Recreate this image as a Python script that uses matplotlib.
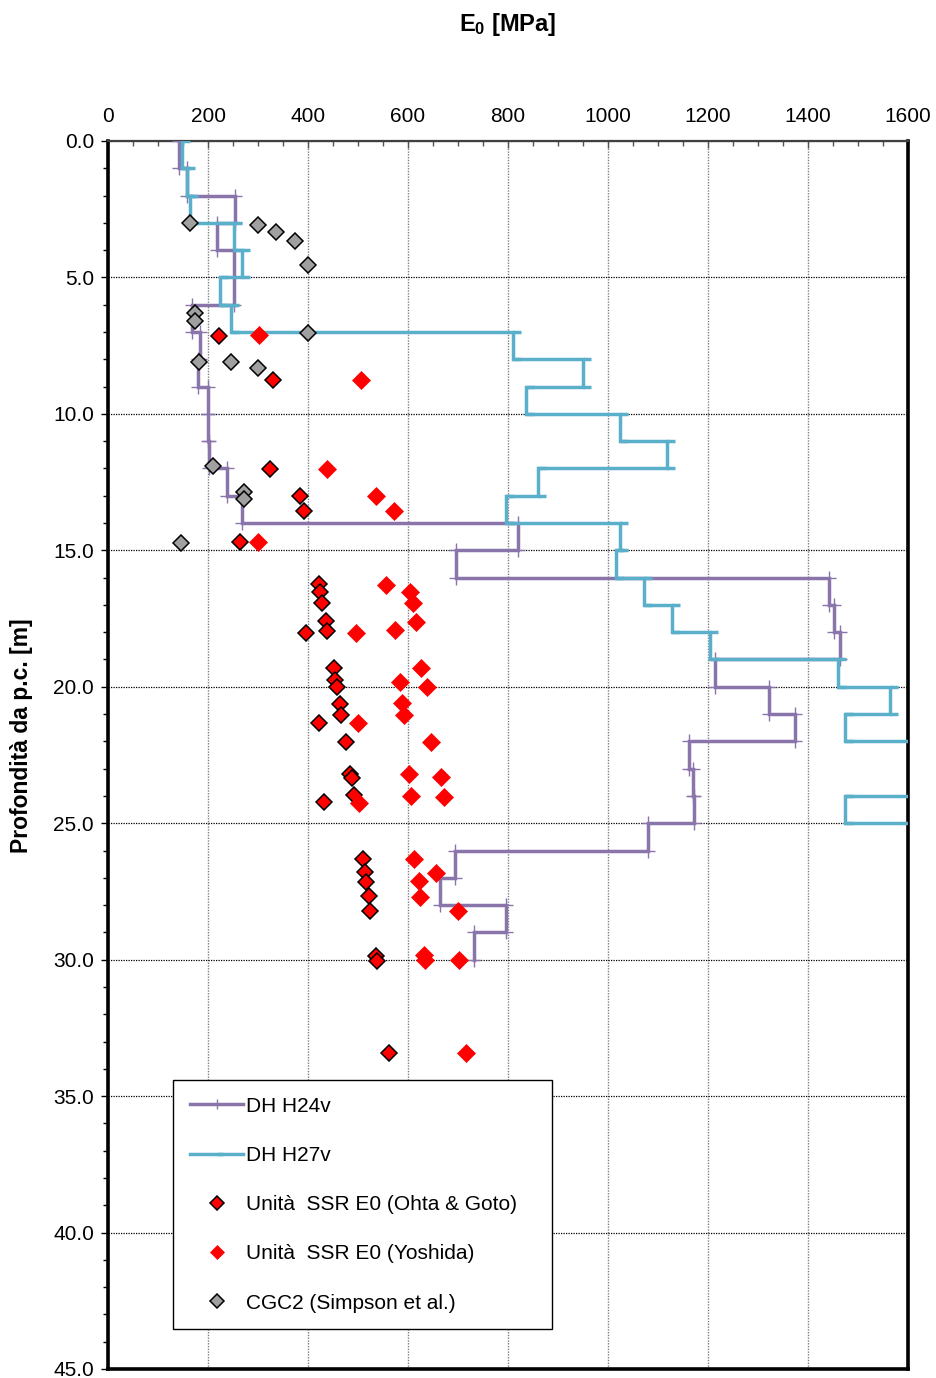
import matplotlib

matplotlib.use("Agg")
import matplotlib.pyplot as plt
from matplotlib.path import Path
from matplotlib.ticker import FormatStrFormatter, MultipleLocator

plt.rcParams["font.family"] = ["Liberation Sans", "DejaVu Sans"]
plt.rcParams["mathtext.fontset"] = "custom"
plt.rcParams["mathtext.rm"] = "Liberation Sans"
plt.rcParams["mathtext.bf"] = "Liberation Sans:bold"
plt.rcParams["mathtext.it"] = "Liberation Sans:italic"

# downhole profiles: 1 m layers, top depth [m] and E0 [MPa]
LAYER_THICKNESS = 1.0
H24V_TOP = list(range(30))
H24V_E = [141, 157, 254, 217, 251, 251, 167, 183, 179, 199,
          199, 202, 237, 267, 820, 696, 1441, 1451, 1463, 1214,
          1321, 1373, 1161, 1170, 1171, 1079, 693, 664, 796, 731]
H27V_TOP = list(range(26))
H27V_E = [147, 158, 164, 252, 267, 224, 246, 810, 949, 835,
          1024, 1117, 859, 795, 1024, 1015, 1071, 1127, 1204, 1459,
          1563, 1474, 1720, 1690, 1474, 1800]

# unit SSR, E0 from Ohta & Goto
OHTA_E = [221, 329, 324, 384, 392, 264,
          421, 423, 427, 435, 437, 396,
          451, 454, 457, 463, 466, 421, 475,
          484, 487, 492, 432,
          509, 514, 515, 521, 524, 536, 537, 561]
OHTA_Z = [7.13, 8.76, 12.02, 13.01, 13.56, 14.71,
          16.23, 16.54, 16.92, 17.59, 17.94, 18.02,
          19.32, 19.75, 20.02, 20.63, 21.03, 21.31, 22.01,
          23.18, 23.35, 23.96, 24.21,
          26.31, 26.80, 27.14, 27.67, 28.22, 29.86, 30.04, 33.43]

# unit SSR, E0 from Yoshida
YOSHIDA_E = [301, 506, 437, 536, 572, 299,
             556, 604, 609, 615, 574, 495,
             625, 584, 637, 588, 591, 499, 646,
             602, 665, 606, 671, 501,
             611, 656, 621, 623, 699, 632, 634, 701, 716]
YOSHIDA_Z = [7.11, 8.76, 12.02, 13.01, 13.56, 14.71,
             16.27, 16.54, 16.92, 17.61, 17.92, 18.02,
             19.32, 19.81, 20.02, 20.61, 21.03, 21.31, 22.01,
             23.21, 23.32, 24.00, 24.03, 24.25,
             26.31, 26.81, 27.10, 27.69, 28.22, 29.83, 30.01, 30.01, 33.41]

# CGC2 (Simpson et al.)
CGC2_E = [163, 300, 336, 373, 400, 173, 173, 400, 181, 245, 300, 209, 272, 272, 145]
CGC2_Z = [3.02, 3.08, 3.32, 3.66, 4.53, 6.29, 6.58, 7.05, 8.11, 8.11, 8.31, 11.91, 12.85, 13.12, 14.74]

PURPLE = "#8a75ab"
AQUA = "#5aafca"
FONT_SIZE = 15


def step_profile(tops, values, thickness):
    e_vals, depths = [], []
    for top, val in zip(tops, values):
        e_vals += [val, val]
        depths += [top, top + thickness]
    return e_vals, depths


fig = plt.figure(figsize=(9.36, 13.78), dpi=100)
ax = fig.add_axes([108 / 936, 9 / 1378, 800 / 936, 1228 / 1378])

# short dash marker pointing right, as the spreadsheet draws it
right_dash = Path([(0.0, 0.0), (1.0, 0.0)])

e24, z24 = step_profile(H24V_TOP, H24V_E, LAYER_THICKNESS)
ax.plot(e24, z24, color=PURPLE, linewidth=2.5, marker="+", markersize=10,
        markeredgewidth=1.0, solid_joinstyle="miter", label="DH H24v", zorder=3)
e27, z27 = step_profile(H27V_TOP, H27V_E, LAYER_THICKNESS)
ax.plot(e27, z27, color=AQUA, linewidth=2.5, marker=right_dash, markersize=11,
        markeredgewidth=2.5, solid_joinstyle="miter", label="DH H27v", zorder=4)

ax.plot(OHTA_E, OHTA_Z, linestyle="none", marker="D", markersize=8.5,
        markerfacecolor="#ff0000", markeredgecolor="black", markeredgewidth=1.1,
        label="Unità  SSR E0 (Ohta & Goto)", zorder=5)
ax.plot(YOSHIDA_E, YOSHIDA_Z, linestyle="none", marker="D", markersize=9,
        markerfacecolor="#ff0000", markeredgecolor="#ff0000", markeredgewidth=0.5,
        label="Unità  SSR E0 (Yoshida)", zorder=6)
ax.plot(CGC2_E, CGC2_Z, linestyle="none", marker="D", markersize=8.5,
        markerfacecolor="#a0a0a0", markeredgecolor="black", markeredgewidth=1.1,
        label="CGC2 (Simpson et al.)", zorder=7)

ax.set_xlim(0, 1600)
ax.set_ylim(45, 0)
ax.xaxis.tick_top()
ax.xaxis.set_major_locator(MultipleLocator(200))
ax.xaxis.set_minor_locator(MultipleLocator(50))
ax.yaxis.set_major_locator(MultipleLocator(5))
ax.yaxis.set_minor_locator(MultipleLocator(1))
ax.yaxis.set_major_formatter(FormatStrFormatter("%.1f"))

ax.tick_params(axis="x", which="both", direction="in", top=True, bottom=False,
               labelsize=FONT_SIZE, pad=11, width=1.0, color="#555555")
ax.tick_params(axis="x", which="major", length=5)
ax.tick_params(axis="x", which="minor", length=3.5)
ax.tick_params(axis="y", which="both", direction="out", labelsize=FONT_SIZE, pad=5, width=1.0)
ax.tick_params(axis="y", which="major", length=5)
ax.tick_params(axis="y", which="minor", length=3.5)

ax.grid(True, which="major", axis="x", color="#808080", linestyle=(0, (1, 1)), linewidth=1.0)
ax.grid(True, which="major", axis="y", color="black", linestyle=(0, (1, 1)), linewidth=0.9)
ax.set_axisbelow(True)

for side in ("left", "right", "bottom"):
    ax.spines[side].set_linewidth(2.6)
    ax.spines[side].set_color("black")
ax.spines["top"].set_linewidth(1.6)
ax.spines["top"].set_color("#404040")

ax.xaxis.set_label_position("top")
ax.set_xlabel(r"$\mathbf{E_0}$ [MPa]", fontsize=17, fontweight="bold")
ax.xaxis.label.set_verticalalignment("center")
ax.xaxis.set_label_coords(0.5, (1369 - 24) / 1228)
ax.set_ylabel("Profondità da p.c. [m]", fontsize=16.5, fontweight="bold")
ax.yaxis.label.set_verticalalignment("center")
ax.yaxis.set_label_coords(-0.1075, 0.516)

leg = ax.legend(loc="upper left", bbox_to_anchor=(0.0816, 0.0344, 0.473, 0.2009),
                mode="expand", borderaxespad=0, fontsize=FONT_SIZE, labelspacing=1.45,
                handlelength=2.55, handletextpad=0.15, borderpad=0.8, markerscale=0.78,
                fancybox=False, framealpha=1.0, edgecolor="black")
leg.get_frame().set_linewidth(1.0)
leg.set_zorder(10)

fig.savefig("out.png", dpi=100)
plt.close(fig)
